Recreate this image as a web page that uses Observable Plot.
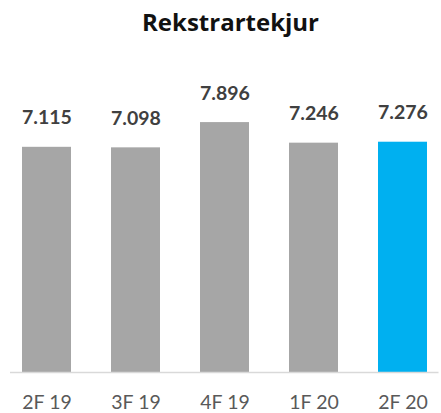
<!DOCTYPE html>
<html>
<head>
<meta charset="utf-8">
<script src="https://cdn.jsdelivr.net/npm/d3@7"></script>
<script src="https://cdn.jsdelivr.net/npm/@observablehq/plot@0.6"></script>
<style>
  html, body { margin: 0; padding: 0; background: #fff; }
  #wrap { width: 441px; height: 413px; overflow: hidden; font-family: Lato, "Open Sans", sans-serif; }
  #title { height: 44px; line-height: 44px; text-align: center; font-weight: bold; font-size: 24px; color: #111; font-family: "Open Sans", Lato, sans-serif; position: relative; left: 10px; }
</style>
</head>
<body>
<div id="wrap">
  <div id="title">Rekstrartekjur</div>
  <div id="chart"></div>
</div>
<script>
const categories = ["2F 19", "3F 19", "4F 19", "1F 20", "2F 20"];
const values = [7.115, 7.098, 7.896, 7.246, 7.276];
const labels = ["7.115", "7.098", "7.896", "7.246", "7.276"];
const highlight = [false, false, false, false, true];

const data = categories.map((c, i) => ({cat: c, value: values[i], label: labels[i], hi: highlight[i]}));

const chart = Plot.plot({
  width: 441,
  height: 369,
  marginTop: 11.5,
  marginBottom: 41,
  marginLeft: 10,
  marginRight: 2.5,
  style: {fontFamily: "Lato, 'Open Sans', sans-serif", background: "#fff"},
  x: {domain: categories, paddingInner: 0.45, paddingOuter: 0.13, label: null},
  y: {domain: [0, 10], axis: null},
  marks: [
    Plot.barY(data, {x: "cat", y: "value", fill: d => d.hi ? "#00b0f0" : "#a6a6a6"}),
    Plot.ruleY([0], {stroke: "#d9d9d9", strokeWidth: 1.5}),
    Plot.text(data, {x: "cat", y: "value", text: "label", lineAnchor: "bottom", dy: -23, fontSize: 19.5, fontWeight: "bold", fill: "#404040"}),
    Plot.axisX({tickSize: 0, tickPadding: 23, fontSize: 19.5, color: "#595959", label: null})
  ]
});
document.getElementById("chart").appendChild(chart);
</script>
</body>
</html>
